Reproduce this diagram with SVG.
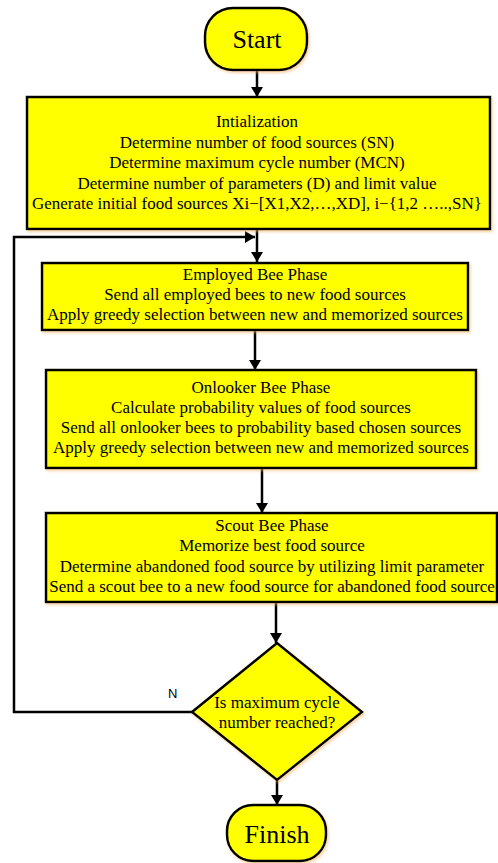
<svg xmlns="http://www.w3.org/2000/svg" width="498" height="863" viewBox="0 0 498 863">
<defs>
<marker id="ah" viewBox="0 0 10 12" refX="10" refY="6" markerWidth="11" markerHeight="12" markerUnits="userSpaceOnUse" orient="auto">
<path d="M0,0 L10,6 L0,12 Z" fill="#000"/>
</marker>
<filter id="sh" x="-5%" y="-5%" width="110%" height="115%">
<feDropShadow dx="1.5" dy="2" stdDeviation="1" flood-color="#f0b060" flood-opacity="0.5"/>
</filter>
</defs>
<style>
.n{fill:#ffff00;stroke:#000;stroke-width:2.5;filter:url(#sh)}
.t{font-family:"Liberation Serif","Times New Roman",serif;font-size:17px;fill:#000;text-anchor:middle}
.big{font-size:26px}
.c{fill:none;stroke:#000;stroke-width:2.5;marker-end:url(#ah)}
.lbl{font-family:"Liberation Sans",Arial,sans-serif;font-size:13px;fill:#000}
</style>
<rect width="498" height="863" fill="#fff"/>
<g id="connectors">
<path class="c" d="M257,70 V97"/>
<path class="c" d="M257,229 V262"/>
<path class="c" d="M255,330 V370"/>
<path class="c" d="M262,468 V513"/>
<path class="c" d="M276,602 V643"/>
<path class="c" d="M277,780 V805"/>
<path class="c" d="M192,712 H14 V237 H255"/>
<text class="lbl" x="168" y="698">N</text>
</g>
<g id="start">
<rect class="n" x="205" y="8" width="102" height="62" rx="28" ry="28"/>
<text class="t big" x="257" y="48">Start</text>
</g>
<g id="init">
<rect class="n" x="27" y="97" width="463" height="132"/>
<text class="t" x="257" y="127">Intialization</text>
<text class="t" x="257" y="148">Determine number of food sources (SN)</text>
<text class="t" x="257" y="168">Determine maximum cycle number (MCN)</text>
<text class="t" x="257" y="189">Determine number of parameters (D) and limit value</text>
<text class="t" x="257" y="209">Generate initial food sources Xi−[X1,X2,…,XD], i−{1,2 …..,SN}</text>
</g>
<g id="employed">
<rect class="n" x="42" y="263" width="426" height="67"/>
<text class="t" x="255" y="280">Employed Bee Phase</text>
<text class="t" x="255" y="300">Send all employed bees to new food sources</text>
<text class="t" x="255" y="320">Apply greedy selection between new and memorized sources</text>
</g>
<g id="onlooker">
<rect class="n" x="46" y="370" width="430" height="98"/>
<text class="t" x="261" y="393">Onlooker Bee Phase</text>
<text class="t" x="261" y="413">Calculate probability values of food sources</text>
<text class="t" x="261" y="433">Send all onlooker bees to probability based chosen sources</text>
<text class="t" x="261" y="453">Apply greedy selection between new and memorized sources</text>
</g>
<g id="scout">
<rect class="n" x="46" y="513" width="451" height="89"/>
<text class="t" x="272" y="531">Scout Bee Phase</text>
<text class="t" x="272" y="551">Memorize best food source</text>
<text class="t" x="272" y="572">Determine abandoned food source by utilizing limit parameter</text>
<text class="t" x="272" y="592">Send a scout bee to a new food source for abandoned food source</text>
</g>
<g id="decision">
<polygon class="n" points="277,643 362,712 277,780 192,712"/>
<text class="t" x="277" y="708">Is maximum cycle</text>
<text class="t" x="277" y="728">number reached?</text>
</g>
<g id="finish">
<rect class="n" x="227" y="805" width="99" height="56" rx="26" ry="26"/>
<text class="t big" x="277" y="843">Finish</text>
</g>
</svg>
